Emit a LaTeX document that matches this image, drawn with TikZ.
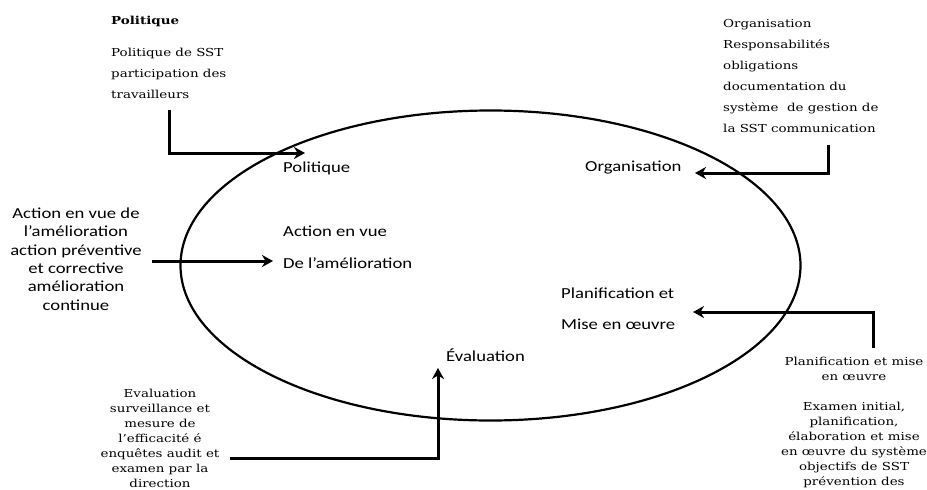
\documentclass[tikz,border=0pt]{standalone}
\usepackage{fontspec}
\setmainfont{DejaVu Serif}
\newfontfamily\notefont[FakeStretch=1.22]{DejaVu Serif}
\newfontfamily\phasefont[FakeStretch=1.22]{Carlito}
\usetikzlibrary{arrows.meta}

\begin{document}
\begin{tikzpicture}[x=1pt,y=-1pt,
    phase/.style={anchor=west,inner sep=0pt,font=\phasefont\fontsize{15.3}{18.4}\selectfont},
    note/.style={inner sep=0pt,font=\notefont\fontsize{11}{21}\selectfont},
    tightnote/.style={note,align=center,font=\notefont\fontsize{11}{15}\selectfont},
    flow/.style={line width=3pt,-{Stealth[length=11pt,width=12pt,inset=3.5pt]}}]
    \useasboundingbox (0,0) rectangle (927,490);

    % the cycle
    \draw[line width=2.2pt] (490.5,265.5) ellipse [x radius=310pt, y radius=155pt];

    % phases inside the cycle
    \node[phase] (pol) at (283,168) {Politique};
    \node[phase] (org) at (585,168) {Organisation};
    \node[phase] (act) at (283,231) {Action en vue};
    \node[phase] (amel) at (283,263) {De l’amélioration};
    \node[phase] (plan) at (561,293) {Planification et};
    \node[phase] (mise) at (561,324) {Mise en œuvre};
    \node[phase] (eval) at (446,355) {Évaluation};

    % notes round the cycle
    \node[note,anchor=north west,align=left] (polnote) at (111,15.6)
        {\textbf{Politique}\\[11pt]Politique de SST\\participation des\\travailleurs};
    \node[note,anchor=north west,align=left] (orgnote) at (723,19.6)
        {Organisation\\Responsabilités\\obligations\\documentation du\\système\ \ de gestion de\\la SST communication};
    \node[phase,anchor=north,align=center] (actnote) at (76,207.5)
        {Action en vue de\\l’amélioration\\action préventive\\et corrective\\amélioration\\continue};
    \node[tightnote,anchor=north] (evalnote) at (160,388.6)
        {Evaluation\\surveillance et\\mesure de\\l’efficacité é\\enquêtes audit et\\examen par la\\direction};
    \node[tightnote,anchor=north] (plannote) at (854,356.6)
        {Planification et mise\\en œuvre\\[15pt]Examen initial,\\planification,\\élaboration et mise\\en œuvre du système\\objectifs de SST\\prévention des};

    % arrows
    \coordinate (polsrc) at (169,110);
    \coordinate (poltip) at (305,153);
    \coordinate (orgsrc) at (828,145);
    \coordinate (orgtip) at (695,173);
    \coordinate (actsrc) at (152,261);
    \coordinate (acttip) at (273,261);
    \coordinate (plansrc) at (873,348);
    \coordinate (plantip) at (693,312);
    \coordinate (evalsrc) at (230,458);
    \coordinate (evaltip) at (438,368);
    \draw[flow] (polsrc) |- (poltip);
    \draw[flow] (orgsrc) |- (orgtip);
    \draw[flow] (actsrc) -- (acttip);
    \draw[flow] (plansrc) |- (plantip);
    \draw[flow] (evalsrc) -| (evaltip);
\end{tikzpicture}
\end{document}
